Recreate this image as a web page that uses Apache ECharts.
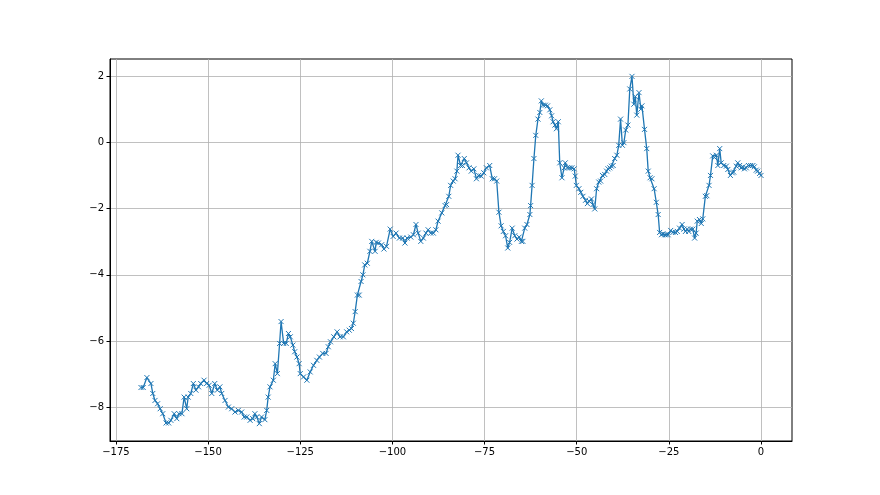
<!DOCTYPE html>
<html>
<head>
<meta charset="utf-8">
<script src="https://cdn.jsdelivr.net/npm/echarts@6/dist/echarts.min.js"></script>
<style>html,body{margin:0;padding:0;background:#fff}#c{width:880px;height:495px}</style>
</head>
<body>
<div id="c"></div>
<script>
const xs = [
-168.2,-167.6,-166.6,-165.5,-165.0,-164.4,-163.7,-163.0,-162.3,-161.4,-160.7,-160.1,-159.2,-158.5,-157.9,-157.1,-156.5,-155.8,-155.4,-154.7,-154.0,-153.3,-152.6,-152.0,-151.1,-150.4,-149.7,-149.0,-148.2,-147.5,-146.8,-146.3,-145.4,-144.5,-143.6,-142.7,-141.8,-140.9,-140.2,-139.5,-138.6,-137.9,-137.3,-136.8,-136.1,-135.5,-134.6,-134.1,-133.7,-133.2,-132.3,-131.8,-131.2,-130.6,-130.2,-129.5,-128.8,-128.2,-127.7,-127.0,-126.5,-125.9,-125.3,
-125.0,-124.1,-123.2,-122.3,-121.4,-120.5,-119.8,-118.9,-118.0,-117.4,-116.8,-115.9,-115.0,-114.2,-113.3,-112.4,-111.7,-111.1,-110.6,-110.1,-109.5,-109.0,-108.5,-108.0,-107.5,-106.8,-106.1,-105.6,-104.7,-104.4,-103.8,-102.9,-102.3,-101.6,-100.6,-99.8,-99.0,-98.1,-97.2,-96.6,-96.0,-95.0,-94.3,-93.6,-93.0,-92.3,-91.6,-90.9,-90.3,-89.6,-88.9,-88.2,
-87.6,-86.6,-85.7,-85.3,-84.7,-84.2,-83.5,-83.0,-82.5,-82.2,-81.5,-81.0,-80.5,-79.9,-79.2,-78.6,-77.9,-77.2,-76.6,-75.9,-75.2,-74.5,-73.6,-72.9,-72.3,-71.7,-71.1,-70.5,-69.9,-69.3,-68.7,-68.2,-67.5,-66.8,-66.2,-65.6,-65.0,-64.6,-64.1,-63.5,-62.7,-62.5,-62.1,-61.6,-61.1,-60.5,-60.0,-59.6,
-59.1,-58.5,-57.9,-57.3,-56.8,-56.4,-55.9,-55.5,-55.0,-54.6,-54.0,-53.4,-53.1,-52.5,-51.9,-51.3,-50.7,-50.4,-50.1,-49.4,-48.9,-48.3,-47.6,-47.1,-46.6,-46.0,-45.6,-45.1,-44.6,-44.0,-43.5,-43.0,-42.4,-41.9,-41.5,-41.0,-40.6,-40.1,-39.7,-39.1,-38.6,-38.1,-37.6,-37.2,-36.7,-36.1,-35.6,-35.0,-34.5,-34.1,-33.7,-33.1,-32.6,-32.3,
-31.6,-31.0,-30.6,-30.1,-29.6,-29.0,-28.4,-27.9,-27.5,-27.0,-26.6,-26.1,-25.7,-25.2,-24.5,-23.9,-23.2,-22.7,-22.1,-21.4,-20.9,-20.5,-20.0,-19.6,-19.1,-18.5,-18.0,-17.6,-17.3,-16.7,-16.2,-15.8,-15.1,-14.7,-14.1,-13.7,-13.1,-12.6,-12.1,-11.7,-11.2,-10.8,-10.1,-9.4,-9.0,-8.3,-7.8,-7.4,-6.7,-6.3,-5.8,-5.4,-4.9,-4.5,-4.0,-3.4,-2.8,-2.2,-1.8,-1.3,-0.9,-0.4,0.0
];
const ys = [
-7.40,-7.40,-7.10,-7.28,-7.58,-7.79,-7.89,-8.04,-8.19,-8.47,-8.47,-8.39,-8.19,-8.34,-8.19,-8.19,-7.69,-8.04,-7.69,-7.58,-7.28,-7.48,-7.38,-7.28,-7.18,-7.28,-7.33,-7.58,-7.28,-7.48,-7.38,-7.58,-7.79,-7.99,-8.04,-8.14,-8.09,-8.14,-8.29,-8.29,-8.39,-8.34,-8.19,-8.29,-8.49,-8.29,-8.37,-8.09,-7.69,-7.38,-7.18,-6.68,-6.98,-6.07,-5.41,-6.07,-6.07,-5.77,-5.87,-6.12,-6.32,-6.48,-6.68,
-6.98,-7.08,-7.18,-6.93,-6.73,-6.58,-6.48,-6.37,-6.37,-6.17,-6.02,-5.87,-5.72,-5.87,-5.87,-5.72,-5.67,-5.62,-5.46,-5.11,-4.61,-4.61,-4.20,-4.00,-3.70,-3.65,-3.29,-2.99,-3.29,-3.02,-3.04,-3.09,-3.22,-3.14,-2.62,-2.84,-2.74,-2.89,-2.89,-3.04,-2.89,-2.86,-2.79,-2.48,-2.74,-2.99,-2.89,-2.74,-2.64,-2.74,-2.74,-2.64,
-2.38,-2.13,-1.91,-1.88,-1.63,-1.30,-1.17,-1.10,-0.87,-0.39,-0.70,-0.70,-0.49,-0.62,-0.77,-0.87,-0.80,-1.10,-1.00,-1.02,-0.92,-0.77,-0.70,-1.10,-1.10,-1.17,-2.11,-2.52,-2.69,-2.82,-3.19,-3.02,-2.59,-2.82,-2.92,-2.86,-2.99,-2.99,-2.59,-2.48,-2.18,-1.91,-1.30,-0.49,0.21,0.70,0.90,1.25,
1.12,1.12,1.10,0.98,0.80,0.62,0.52,0.41,0.62,-0.62,-1.07,-0.77,-0.62,-0.77,-0.77,-0.77,-0.80,-1.02,-1.30,-1.40,-1.51,-1.63,-1.75,-1.85,-1.78,-1.71,-1.88,-2.01,-1.40,-1.20,-1.17,-1.00,-0.97,-0.87,-0.80,-0.77,-0.72,-0.70,-0.49,-0.39,-0.09,0.70,-0.09,-0.01,0.37,0.52,1.61,1.99,1.15,1.38,0.82,1.50,1.00,1.10,
0.39,-0.19,-0.87,-1.07,-1.10,-1.40,-1.81,-2.18,-2.72,-2.79,-2.76,-2.79,-2.79,-2.79,-2.66,-2.72,-2.72,-2.69,-2.59,-2.48,-2.62,-2.69,-2.62,-2.69,-2.62,-2.62,-2.89,-2.74,-2.38,-2.33,-2.45,-2.31,-1.63,-1.61,-1.30,-1.00,-0.41,-0.46,-0.39,-0.70,-0.19,-0.62,-0.70,-0.72,-0.82,-1.00,-0.92,-0.90,-0.72,-0.62,-0.70,-0.77,-0.74,-0.80,-0.77,-0.70,-0.70,-0.70,-0.74,-0.84,-0.87,-0.94,-1.00
];
const xTicks = [-175, -150, -125, -100, -75, -50, -25, 0];
const yTicks = [-8, -6, -4, -2, 0, 2];

const data = xs.map((x, i) => [x, ys[i]]);
const xMinD = Math.min(...xs), xMaxD = Math.max(...xs);
const yMinD = Math.min(...ys), yMaxD = Math.max(...ys);
const xr = xMaxD - xMinD, yr = yMaxD - yMinD;
const fmt = v => String(v).replace('-', '\u2212');
const font = { fontFamily: 'DejaVu Sans', fontSize: 10, color: '#000' };

const chart = echarts.init(document.getElementById('c'), null, { renderer: 'canvas' });
chart.setOption({
  animation: false,
  backgroundColor: '#fff',
  grid: { left: 110, right: 88, top: 59, bottom: 54, show: true, borderColor: '#000', borderWidth: 1, backgroundColor: 'transparent' },
  xAxis: {
    type: 'value',
    min: xMinD - 0.05 * xr, max: xMaxD + 0.05 * xr,
    axisLine: { show: true, onZero: false, lineStyle: { color: '#000', width: 1 } },
    axisTick: { show: true, length: 3.5, inside: false, customValues: xTicks, lineStyle: { color: '#000' } },
    axisLabel: { ...font, margin: 6, customValues: xTicks, formatter: fmt, showMinLabel: true, showMaxLabel: true },
    splitLine: { show: true, lineStyle: { color: '#b0b0b0', width: 0.8 } }
  },
  yAxis: {
    type: 'value',
    min: yMinD - 0.05 * yr, max: yMaxD + 0.05 * yr,
    axisLine: { show: true, onZero: false, lineStyle: { color: '#000', width: 1 } },
    axisTick: { show: true, length: 3.5, inside: false, customValues: yTicks, lineStyle: { color: '#000' } },
    axisLabel: { ...font, margin: 6, customValues: yTicks, formatter: fmt },
    splitLine: { show: true, lineStyle: { color: '#b0b0b0', width: 0.8 } }
  },
  series: [{
    type: 'line',
    data: data,
    symbol: 'path://M0,0L10,10M10,0L0,10',
    symbolSize: 5,
    showAllSymbol: true,
    lineStyle: { color: '#1f77b4', width: 1.3 },
    itemStyle: { color: 'rgba(0,0,0,0)', borderColor: '#1f77b4', borderWidth: 1 },
    emphasis: { disabled: true }
  }]
});
</script>
</body>
</html>
